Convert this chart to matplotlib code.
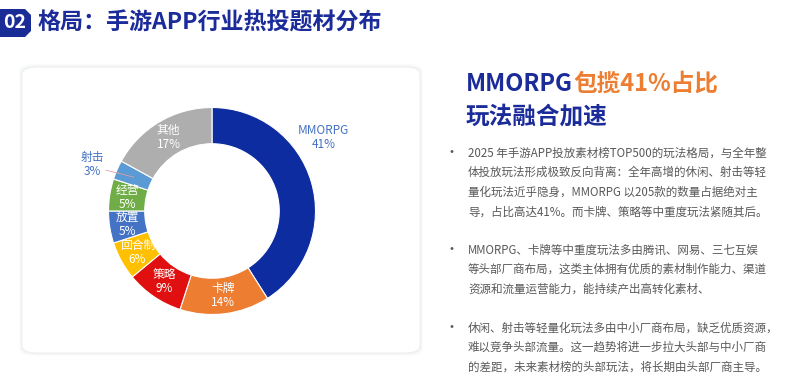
"""Mobile game APP hot genre distribution: donut chart with commentary."""

import matplotlib

matplotlib.use("Agg")
import matplotlib.pyplot as plt
import numpy as np
from matplotlib.patches import FancyBboxPatch, Polygon

plt.rcParams["font.family"] = ["Noto Sans CJK SC", "DejaVu Sans"]

# Data
genres = ["MMORPG", "卡牌", "策略", "回合制", "放置", "经营", "射击", "其他"]
shares = [41, 14, 9, 6, 5, 5, 3, 17]
outside_labels = ["MMORPG", "射击"]

title_text = "格局：手游APP行业热投题材分布"
badge_text = "02"
heading_a = "MMORPG"
heading_b = "包揽41%占比"
heading_2 = "玩法融合加速"
paragraphs = [
    [
        "2025 年手游APP投放素材榜TOP500的玩法格局，与全年整",
        "体投放玩法形成极致反向背离：全年高增的休闲、射击等轻",
        "量化玩法近乎隐身，MMORPG 以205款的数量占据绝对主",
        "导，占比高达41%。而卡牌、策略等中重度玩法紧随其后。",
    ],
    [
        "MMORPG、卡牌等中重度玩法多由腾讯、网易、三七互娱",
        "等头部厂商布局，这类主体拥有优质的素材制作能力、渠道",
        "资源和流量运营能力，能持续产出高转化素材、",
    ],
    [
        "休闲、射击等轻量化玩法多由中小厂商布局，缺乏优质资源，",
        "难以竞争头部流量。这一趋势将进一步拉大头部与中小厂商",
        "的差距，未来素材榜的头部玩法，将长期由头部厂商主导。",
    ],
]

PALETTE = ["#0C2C9F", "#ED7D31", "#E01010", "#FFC000", "#4472C4", "#70AD47", "#5B9BD5", "#AEAEAE"]
NAVY = "#1B2C9A"
LABEL_BLUE = "#4472C4"
ORANGE = "#ED7D31"
BODY = "#595959"

W, H = 792, 382
fig = plt.figure(figsize=(W / 100, H / 100), dpi=100)
fig.patch.set_facecolor("white")


def fx(px):
    return px / W


def fy(py):
    return 1 - py / H


# Badge + title
badge = Polygon(
    [(fx(0), fy(9)), (fx(25), fy(9)), (fx(31), fy(15)), (fx(31), fy(31)), (fx(25), fy(37)), (fx(0), fy(37))],
    closed=True, transform=fig.transFigure, facecolor="#1A2C96", edgecolor="none",
)
fig.patches.append(badge)
fig.text(fx(15), fy(23), badge_text, color="white", fontsize=14, fontweight="bold",
         ha="center", va="center")
fig.text(fx(38), fy(23), title_text, color=NAVY, fontsize=16.6, fontweight="bold",
         ha="left", va="center")

# Card with soft shadow
for i, a in enumerate([0.03, 0.03, 0.04]):
    d = 3 - i
    sh = FancyBboxPatch((fx(22 - d), fy(353 + d)), fx(398 + 2 * d), (286 + 2 * d) / H,
                        boxstyle=f"round,pad=0,rounding_size={fx(16)}",
                        transform=fig.transFigure, facecolor="#7A8AA0", edgecolor="none",
                        alpha=a, zorder=-2)
    fig.patches.append(sh)
card = FancyBboxPatch((fx(22), fy(353)), fx(398), 286 / H,
                      boxstyle=f"round,pad=0,rounding_size={fx(16)}",
                      transform=fig.transFigure, facecolor="white", edgecolor="#EEEEEE",
                      lw=0.6, zorder=-1)
fig.patches.append(card)

# Donut axes
cx, cy, R = 212, 211, 103.5
side = 300
ax = fig.add_axes([fx(cx - side / 2), fy(cy + side / 2), fx(side), side / H])
ax.set_zorder(5)
ax.patch.set_alpha(0)

wedges, _ = ax.pie(
    shares, colors=PALETTE, startangle=90, counterclock=False, radius=1.0,
    wedgeprops=dict(width=0.35, edgecolor="white", linewidth=0.8),
)
lim = side / 2 / R
ax.set_xlim(-lim, lim)
ax.set_ylim(-lim, lim)
ax.set_aspect("equal")
ax.set_axis_off()

cum = np.cumsum([0] + shares[:-1])
mid_r = 1.0 - 0.35 / 2
for name, val, start in zip(genres, shares, cum):
    ang = np.deg2rad(90 - 3.6 * (start + val / 2))
    label = f"{name}\n{val}%"
    if name == "MMORPG":
        la = ang + np.deg2rad(17)
        ax.text(1.29 * np.cos(la), 1.29 * np.sin(la), label, ha="center", va="center",
                color=LABEL_BLUE, fontsize=8.5, linespacing=1.1)
    elif name in outside_labels:
        la = ang + np.deg2rad(2)
        tx, ty = 1.24 * np.cos(la), 1.24 * np.sin(la)
        ax.text(tx, ty, label, ha="center", va="center", color=LABEL_BLUE, fontsize=8.5,
                linespacing=1.1)
        ax.plot([mid_r * np.cos(ang), 1.1 * np.cos(la)], [mid_r * np.sin(ang), 1.08 * np.sin(la)],
                color="#E0A0A0", lw=0.6)
    else:
        ax.text(mid_r * np.cos(ang), mid_r * np.sin(ang), label, ha="center", va="center",
                color="white", fontsize=8.5, linespacing=1.1)

# Right heading
renderer = fig.canvas.get_renderer()
t1 = fig.text(fx(466), fy(84), heading_a, color=NAVY, fontsize=17, fontweight="bold",
              ha="left", va="center")
bb = t1.get_window_extent(renderer=renderer)
fig.text(bb.x1 / W, fy(84), heading_b, color=ORANGE, fontsize=17, fontweight="bold",
         ha="left", va="center")
fig.text(fx(466), fy(116), heading_2, color=NAVY, fontsize=17, fontweight="bold",
         ha="left", va="center")

# Bullets
para_tops = [153, 250, 328]
for top, lines in zip(para_tops, paragraphs):
    fig.text(fx(452), fy(top), "•", color=BODY, fontsize=10, ha="center", va="center")
    for i, line in enumerate(lines):
        fig.text(fx(468), fy(top + 19.7 * i), line, color=BODY, fontsize=8.3,
                 ha="left", va="center")

fig.savefig("out.png", dpi=100)
